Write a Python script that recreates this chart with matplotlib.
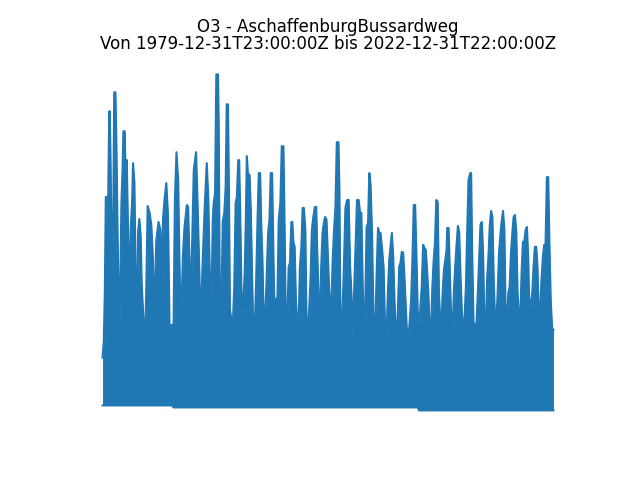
import matplotlib
matplotlib.use("Agg")
import matplotlib.pyplot as plt
import numpy as np

station = "AschaffenburgBussardweg"
component = "O3"
start_label = "1979-12-31T23:00:00Z"
end_label = "2022-12-31T22:00:00Z"

# upper envelope of the hourly series (decimal year, value)
years = [
    1980.00, 1980.12, 1980.22, 1980.26, 1980.31, 1980.54, 1980.64, 1980.69, 1980.76, 1980.88,
    1981.02, 1981.11, 1981.23, 1981.33, 1981.45, 1981.59, 1981.71, 1981.80, 1981.90, 1981.99,
    1982.12, 1982.21, 1982.31, 1982.47, 1982.53, 1982.69, 1982.82, 1982.91, 1983.04, 1983.16,
    1983.29, 1983.39, 1983.51, 1983.64, 1983.73, 1983.83, 1983.96, 1984.05, 1984.18, 1984.30,
    1984.49, 1984.65, 1984.81, 1984.87, 1985.00, 1985.13, 1985.34, 1985.51, 1985.63, 1985.76,
    1985.91, 1986.08, 1986.24, 1986.39, 1986.64, 1986.77, 1986.90, 1987.05, 1987.21, 1987.34,
    1987.47, 1987.66, 1987.81, 1988.04, 1988.16, 1988.29, 1988.42, 1988.54, 1988.70, 1988.92,
    1989.08, 1989.24, 1989.33, 1989.56, 1989.71, 1989.94, 1990.09, 1990.25, 1990.35, 1990.51,
    1990.60, 1990.73, 1990.85, 1991.01, 1991.08, 1991.17, 1991.30, 1991.46, 1991.61, 1991.74,
    1991.84, 1991.96, 1992.06, 1992.15, 1992.31, 1992.43, 1992.56, 1992.69, 1992.81, 1992.94,
    1993.03, 1993.17, 1993.29, 1993.41, 1993.55, 1993.67, 1993.76, 1993.86, 1994.02, 1994.14,
    1994.27, 1994.40, 1994.52, 1994.65, 1994.78, 1994.90, 1995.03, 1995.12, 1995.25, 1995.35,
    1995.47, 1995.60, 1995.79, 1995.92, 1996.04, 1996.17, 1996.30, 1996.42, 1996.55, 1996.68,
    1996.80, 1996.96, 1997.09, 1997.25, 1997.37, 1997.49, 1997.63, 1997.75, 1997.87, 1998.01,
    1998.10, 1998.20, 1998.32, 1998.44, 1998.58, 1998.70, 1998.82, 1998.96, 1999.08, 1999.20,
    1999.34, 1999.46, 1999.58, 1999.72, 1999.84, 1999.96, 2000.10, 2000.25, 2000.38, 2000.48,
    2000.60, 2000.72, 2000.85, 2000.98, 2001.10, 2001.23, 2001.36, 2001.48, 2001.61, 2001.74,
    2001.83, 2001.96, 2002.09, 2002.21, 2002.34, 2002.50, 2002.59, 2002.69, 2002.85, 2003.00,
    2003.16, 2003.32, 2003.47, 2003.61, 2003.73, 2003.85, 2003.99, 2004.11, 2004.27, 2004.42,
    2004.56, 2004.68, 2004.80, 2004.94, 2005.06, 2005.18, 2005.32, 2005.44, 2005.56, 2005.70,
    2005.85, 2006.01, 2006.13, 2006.27, 2006.39, 2006.51, 2006.64, 2006.80, 2006.96, 2007.08,
    2007.21, 2007.34, 2007.46, 2007.59, 2007.72, 2007.84, 2007.97, 2008.07, 2008.16, 2008.29,
    2008.41, 2008.54, 2008.67, 2008.79, 2008.92, 2009.05, 2009.17, 2009.30, 2009.43, 2009.55,
    2009.68, 2009.81, 2009.93, 2010.06, 2010.19, 2010.31, 2010.44, 2010.57, 2010.69, 2010.82,
    2010.95, 2011.07, 2011.20, 2011.32, 2011.45, 2011.58, 2011.70, 2011.83, 2011.96, 2012.08,
    2012.21, 2012.34, 2012.43, 2012.56, 2012.68, 2012.81, 2012.87, 2013.00, 2013.13, 2013.25,
    2013.38, 2013.51, 2013.63, 2013.76, 2013.89, 2014.01, 2014.14, 2014.27, 2014.39, 2014.52,
    2014.65, 2014.77, 2014.90, 2015.06, 2015.15, 2015.25, 2015.38, 2015.50, 2015.66, 2015.79,
    2015.91, 2016.04, 2016.17, 2016.29, 2016.42, 2016.55, 2016.67, 2016.80, 2016.92, 2017.05,
    2017.18, 2017.30, 2017.43, 2017.56, 2017.68, 2017.81, 2018.00, 2018.19, 2018.32, 2018.44,
    2018.57, 2018.70, 2018.82, 2018.95, 2019.08, 2019.20, 2019.33, 2019.46, 2019.58, 2019.71,
    2019.84, 2019.96, 2020.09, 2020.22, 2020.34, 2020.47, 2020.60, 2020.72, 2020.85, 2020.98,
    2021.10, 2021.23, 2021.36, 2021.48, 2021.61, 2021.74, 2021.86, 2021.99, 2022.12, 2022.24,
    2022.37, 2022.50, 2022.62, 2022.74, 2022.88, 2023.00,
]
o3_max = [
    48, 64, 116, 158, 209, 209, 295, 295, 249, 146,
    181, 314, 314, 257, 161, 64, 136, 203, 233, 275,
    275, 221, 246, 154, 81, 178, 204, 243, 223, 129,
    83, 174, 187, 169, 123, 101, 74, 59, 123, 200,
    193, 181, 146, 84, 118, 166, 184, 176, 116, 186,
    206, 223, 191, 79, 81, 79, 206, 254, 226, 143,
    71, 149, 178, 201, 199, 146, 96, 161, 236, 254,
    196, 131, 73, 148, 191, 243, 206, 119, 71, 186,
    203, 213, 332, 332, 279, 126, 74, 184, 193, 219,
    302, 302, 209, 96, 84, 83, 119, 203, 209, 246,
    246, 169, 79, 103, 131, 188, 250, 233, 231, 196,
    126, 64, 79, 126, 186, 233, 233, 186, 146, 96,
    79, 113, 173, 186, 233, 233, 149, 83, 106, 109,
    186, 204, 260, 260, 173, 73, 89, 139, 143, 184,
    184, 164, 159, 106, 79, 83, 139, 159, 198, 198,
    176, 79, 76, 99, 129, 176, 189, 199, 199, 153,
    113, 71, 139, 173, 183, 189, 186, 153, 116, 89,
    106, 149, 179, 199, 264, 264, 216, 83, 84, 133,
    198, 206, 206, 139, 113, 68, 113, 149, 206, 206,
    193, 193, 126, 59, 106, 179, 183, 233, 221, 173,
    79, 79, 129, 178, 173, 173, 159, 139, 71, 69,
    113, 146, 159, 173, 149, 106, 73, 63, 93, 139,
    143, 154, 153, 129, 99, 69, 66, 86, 106, 146,
    201, 201, 153, 93, 74, 99, 119, 161, 158, 156,
    136, 113, 76, 69, 119, 146, 163, 206, 204, 113,
    83, 83, 113, 136, 146, 156, 178, 178, 129, 86,
    73, 116, 139, 161, 180, 174, 129, 93, 79, 86,
    119, 173, 226, 233, 233, 153, 83, 79, 83, 113,
    146, 181, 184, 153, 79, 73, 126, 149, 179, 195,
    189, 129, 86, 84, 113, 153, 179, 195, 176, 93,
    86, 113, 119, 153, 173, 189, 191, 173, 113, 89,
    89, 133, 164, 164, 176, 179, 146, 86, 103, 113,
    139, 159, 159, 139, 79, 99, 126, 149, 161, 159,
    229, 229, 161, 106, 76, 76,
]

# lowest values of the series per period (small negative readings later on)
low_from = [1980.0, 1986.75, 2010.1]
low_value = [0, -2, -5]


if __name__ == '__main__':
    t = np.array(years)
    upper = np.array(o3_max, dtype=float)
    idx = np.searchsorted(low_from, t, side="right") - 1
    lower = np.array(low_value, dtype=float)[idx]

    fig, ax = plt.subplots(figsize=(6.4, 4.8), dpi=100)
    ax.fill_between(t, lower, upper, color="C0", linewidth=0)
    ax.plot(t, upper, color="C0", linewidth=1.5)
    ax.plot(t, lower, color="C0", linewidth=1.5)
    ax.set_title(f"{component} - {station}\nVon {start_label} bis {end_label}",
                 linespacing=0.95)
    ax.axis("off")

    fig.savefig("out.png", dpi=100)
